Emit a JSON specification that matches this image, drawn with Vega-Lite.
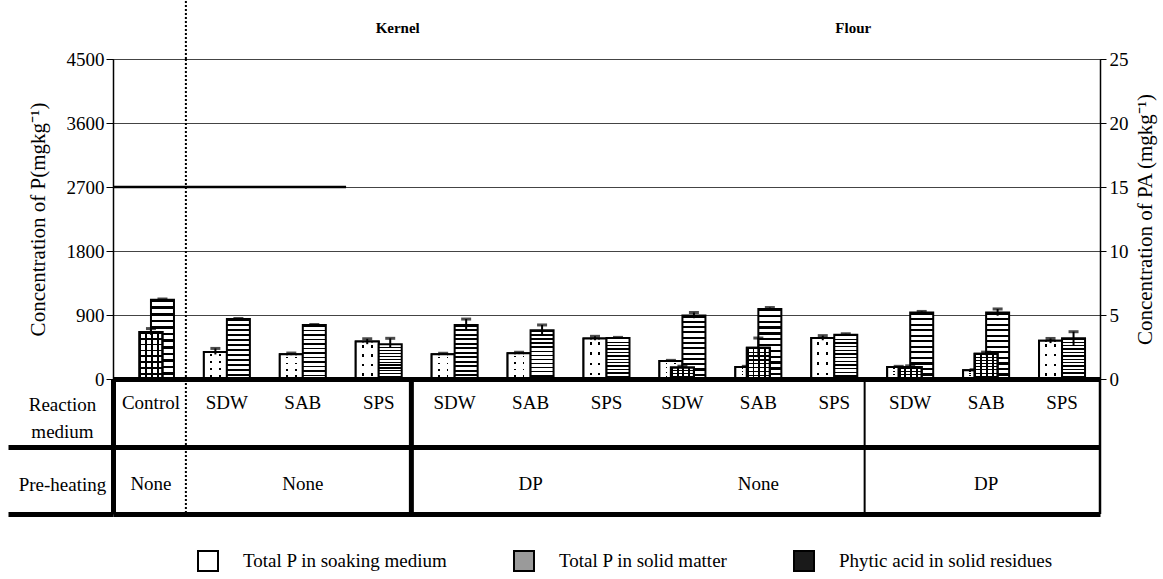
{
"$schema": "https://vega.github.io/schema/vega-lite/v6.json",
"background": "white",
"padding": {"left": 5, "top": 0, "right": 4, "bottom": 5},
"datasets": {
 "bars": [
  {"cat":"K1-SDW","series":"soaking","value":381,"lo":345,"hi":430},
  {"cat":"K1-SAB","series":"soaking","value":349,"lo":335,"hi":365},
  {"cat":"K1-SPS","series":"soaking","value":527,"lo":490,"hi":565},
  {"cat":"K2-SDW","series":"soaking","value":349,"lo":338,"hi":362},
  {"cat":"K2-SAB","series":"soaking","value":363,"lo":350,"hi":376},
  {"cat":"K2-SPS","series":"soaking","value":569,"lo":545,"hi":600},
  {"cat":"F1-SDW","series":"soaking","value":254,"lo":246,"hi":262},
  {"cat":"F1-SAB","series":"soaking","value":169,"lo":160,"hi":178},
  {"cat":"F1-SPS","series":"soaking","value":575,"lo":545,"hi":610},
  {"cat":"F2-SDW","series":"soaking","value":169,"lo":160,"hi":178},
  {"cat":"F2-SAB","series":"soaking","value":123,"lo":115,"hi":131},
  {"cat":"F2-SPS","series":"soaking","value":537,"lo":505,"hi":570},
  {"cat":"C","series":"solid","value":1115,"lo":1105,"hi":1125},
  {"cat":"K1-SDW","series":"solid","value":843,"lo":835,"hi":851},
  {"cat":"K1-SAB","series":"solid","value":758,"lo":750,"hi":766},
  {"cat":"K1-SPS","series":"solid","value":490,"lo":440,"hi":572},
  {"cat":"K2-SDW","series":"solid","value":760,"lo":690,"hi":843},
  {"cat":"K2-SAB","series":"solid","value":686,"lo":610,"hi":760},
  {"cat":"K2-SPS","series":"solid","value":575,"lo":565,"hi":585},
  {"cat":"F1-SDW","series":"solid","value":894,"lo":855,"hi":935},
  {"cat":"F1-SAB","series":"solid","value":985,"lo":965,"hi":1005},
  {"cat":"F1-SPS","series":"solid","value":621,"lo":606,"hi":636},
  {"cat":"F2-SDW","series":"solid","value":936,"lo":922,"hi":950},
  {"cat":"F2-SAB","series":"solid","value":936,"lo":890,"hi":985},
  {"cat":"F2-SPS","series":"solid","value":572,"lo":478,"hi":665},
  {"cat":"C","series":"pa","value":3.68,"lo":3.45,"hi":3.94},
  {"cat":"F1-SDW","series":"pa","value":0.9,"lo":0.8,"hi":1.0},
  {"cat":"F1-SAB","series":"pa","value":2.45,"lo":1.7,"hi":3.2},
  {"cat":"F2-SDW","series":"pa","value":0.94,"lo":0.85,"hi":1.03},
  {"cat":"F2-SAB","series":"pa","value":1.98,"lo":1.85,"hi":2.1}
 ],
 "medium": [
  {"cat":"C","label":"Control"},{"cat":"K1-SDW","label":"SDW"},{"cat":"K1-SAB","label":"SAB"},{"cat":"K1-SPS","label":"SPS"},
  {"cat":"K2-SDW","label":"SDW"},{"cat":"K2-SAB","label":"SAB"},{"cat":"K2-SPS","label":"SPS"},
  {"cat":"F1-SDW","label":"SDW"},{"cat":"F1-SAB","label":"SAB"},{"cat":"F1-SPS","label":"SPS"},
  {"cat":"F2-SDW","label":"SDW"},{"cat":"F2-SAB","label":"SAB"},{"cat":"F2-SPS","label":"SPS"}
 ],
 "pre": [
  {"cat":"C","label":"None"},{"cat":"K1-SAB","label":"None"},{"cat":"K2-SAB","label":"DP"},{"cat":"F1-SAB","label":"None"},{"cat":"F2-SAB","label":"DP"}
 ],
 "groups": [{"cat":"K1-SPS","label":"Kernel"},{"cat":"F1-SPS","label":"Flour"}],
 "legend": [{"name":"Total P in soaking medium"},{"name":"Total P in solid matter"},{"name":"Phytic acid in solid residues"}]
},
"vconcat": [
 {
  "width": 987, "height": 58,
  "layer": [
   {"data": {"values": [{"cat": "C"}]},
    "mark": {"type": "rule", "strokeDash": [2, 2], "strokeWidth": 2, "color": "black"},
    "encoding": {"x": {"field": "cat", "type": "nominal", "bandPosition": 0.96, "scale": {"domain": ["C","K1-SDW","K1-SAB","K1-SPS","K2-SDW","K2-SAB","K2-SPS","F1-SDW","F1-SAB","F1-SPS","F2-SDW","F2-SAB","F2-SPS"], "paddingInner": 0, "paddingOuter": 0}, "axis": null}}},
   {"data": {"name": "groups"},
    "mark": {"type": "text", "font": "Liberation Serif", "fontSize": 15, "fontWeight": "bold", "color": "black", "baseline": "middle"},
    "encoding": {
     "x": {"field": "cat", "type": "nominal", "bandPosition": 0.75, "scale": {"domain": ["C","K1-SDW","K1-SAB","K1-SPS","K2-SDW","K2-SAB","K2-SPS","F1-SDW","F1-SAB","F1-SPS","F2-SDW","F2-SAB","F2-SPS"], "paddingInner": 0, "paddingOuter": 0}, "axis": null},
     "y": {"datum": 1.07, "type": "quantitative", "scale": {"domain": [0, 2]}, "axis": null},
     "text": {"field": "label"}}}
  ]
 },
 {
  "width": 987, "height": 320,
  "view": {"stroke": "black", "strokeWidth": 1},
  "layer": [
   {"layer": [
    {"data": {"name": "bars"}, "transform": [{"filter": "datum.series == 'soaking'"}],
     "mark": {"type": "bar", "stroke": "black", "strokeWidth": 2,
      "fill": {"gradient": "linear", "x1": 0, "y1": 0, "x2": 0, "y2": 1, "stops": [
       {"offset": 0, "color": "white"}, {"offset": 0.095, "color": "white"}, {"offset": 0.095, "color": "black"}, {"offset": 0.16, "color": "black"}, {"offset": 0.16, "color": "white"},
       {"offset": 0.345, "color": "white"}, {"offset": 0.345, "color": "black"}, {"offset": 0.41, "color": "black"}, {"offset": 0.41, "color": "white"},
       {"offset": 0.595, "color": "white"}, {"offset": 0.595, "color": "black"}, {"offset": 0.66, "color": "black"}, {"offset": 0.66, "color": "white"},
       {"offset": 0.845, "color": "white"}, {"offset": 0.845, "color": "black"}, {"offset": 0.91, "color": "black"}, {"offset": 0.91, "color": "white"}, {"offset": 1, "color": "white"}
      ]}},
     "encoding": {
      "x": {"field": "cat", "type": "nominal", "scale": {"domain": ["C","K1-SDW","K1-SAB","K1-SPS","K2-SDW","K2-SAB","K2-SPS","F1-SDW","F1-SAB","F1-SPS","F2-SDW","F2-SAB","F2-SPS"], "paddingInner": 0, "paddingOuter": 0},
            "axis": {"orient": "bottom", "labels": false, "ticks": false, "title": null, "grid": false, "domain": true, "domainColor": "black", "domainWidth": 5}},
      "xOffset": {"field": "series", "type": "nominal", "scale": {"domain": ["soaking", "solid"], "paddingInner": 0, "paddingOuter": 0.65}},
      "y": {"field": "value", "type": "quantitative", "scale": {"domain": [0, 4500], "nice": false},
            "axis": {"orient": "left", "values": [0, 900, 1800, 2700, 3600, 4500], "format": "d", "grid": true, "gridColor": "#444", "gridWidth": 1, "domainColor": "black", "domainWidth": 1.5, "tickSize": 7, "tickColor": "black", "labelPadding": 2,
                     "labelFont": "Liberation Serif", "labelFontSize": 19, "labelColor": "black",
                     "title": "Concentration of  P(mgkg⁻¹)", "titleFont": "Liberation Serif", "titleFontSize": 21, "titleFontWeight": "normal", "titleColor": "black", "titlePadding": 18}}
     }},
    {"data": {"name": "bars"}, "transform": [{"filter": "datum.series == 'soaking'"}],
     "mark": {"type": "bar", "stroke": "black", "strokeWidth": 2,
      "fill": {"gradient": "linear", "x1": 0, "y1": 0, "x2": 1, "y2": 0, "stops": [
       {"offset": 0, "color": "white"}, {"offset": 0.27, "color": "white"}, {"offset": 0.27, "color": "rgba(255,255,255,0)"}, {"offset": 0.35, "color": "rgba(255,255,255,0)"}, {"offset": 0.35, "color": "white"},
       {"offset": 0.65, "color": "white"}, {"offset": 0.65, "color": "rgba(255,255,255,0)"}, {"offset": 0.73, "color": "rgba(255,255,255,0)"}, {"offset": 0.73, "color": "white"}, {"offset": 1, "color": "white"}
      ]}},
     "encoding": {
      "x": {"field": "cat", "type": "nominal", "scale": {"domain": ["C","K1-SDW","K1-SAB","K1-SPS","K2-SDW","K2-SAB","K2-SPS","F1-SDW","F1-SAB","F1-SPS","F2-SDW","F2-SAB","F2-SPS"], "paddingInner": 0, "paddingOuter": 0}},
      "xOffset": {"field": "series", "type": "nominal", "scale": {"domain": ["soaking", "solid"], "paddingInner": 0, "paddingOuter": 0.65}},
      "y": {"field": "value", "type": "quantitative", "scale": {"domain": [0, 4500], "nice": false}}
     }},
    {"data": {"name": "bars"}, "transform": [{"filter": "datum.series == 'solid'"}],
     "mark": {"type": "bar", "stroke": "black", "strokeWidth": 2,
      "fill": {"gradient": "linear", "x1": 0, "y1": 0, "x2": 0, "y2": 1, "stops": [
       {"offset": 0, "color": "black"}, {"offset": 0.0333, "color": "black"}, {"offset": 0.0333, "color": "white"}, {"offset": 0.0833, "color": "white"},
       {"offset": 0.0833, "color": "black"}, {"offset": 0.1167, "color": "black"}, {"offset": 0.1167, "color": "white"}, {"offset": 0.1667, "color": "white"},
       {"offset": 0.1667, "color": "black"}, {"offset": 0.2, "color": "black"}, {"offset": 0.2, "color": "white"}, {"offset": 0.25, "color": "white"},
       {"offset": 0.25, "color": "black"}, {"offset": 0.2833, "color": "black"}, {"offset": 0.2833, "color": "white"}, {"offset": 0.3333, "color": "white"},
       {"offset": 0.3333, "color": "black"}, {"offset": 0.3667, "color": "black"}, {"offset": 0.3667, "color": "white"}, {"offset": 0.4167, "color": "white"},
       {"offset": 0.4167, "color": "black"}, {"offset": 0.45, "color": "black"}, {"offset": 0.45, "color": "white"}, {"offset": 0.5, "color": "white"},
       {"offset": 0.5, "color": "black"}, {"offset": 0.5333, "color": "black"}, {"offset": 0.5333, "color": "white"}, {"offset": 0.5833, "color": "white"},
       {"offset": 0.5833, "color": "black"}, {"offset": 0.6167, "color": "black"}, {"offset": 0.6167, "color": "white"}, {"offset": 0.6667, "color": "white"},
       {"offset": 0.6667, "color": "black"}, {"offset": 0.7, "color": "black"}, {"offset": 0.7, "color": "white"}, {"offset": 0.75, "color": "white"},
       {"offset": 0.75, "color": "black"}, {"offset": 0.7833, "color": "black"}, {"offset": 0.7833, "color": "white"}, {"offset": 0.8333, "color": "white"},
       {"offset": 0.8333, "color": "black"}, {"offset": 0.8667, "color": "black"}, {"offset": 0.8667, "color": "white"}, {"offset": 0.9167, "color": "white"},
       {"offset": 0.9167, "color": "black"}, {"offset": 0.95, "color": "black"}, {"offset": 0.95, "color": "white"}, {"offset": 1, "color": "white"}
      ]}},
     "encoding": {
      "x": {"field": "cat", "type": "nominal", "scale": {"domain": ["C","K1-SDW","K1-SAB","K1-SPS","K2-SDW","K2-SAB","K2-SPS","F1-SDW","F1-SAB","F1-SPS","F2-SDW","F2-SAB","F2-SPS"], "paddingInner": 0, "paddingOuter": 0}},
      "xOffset": {"field": "series", "type": "nominal", "scale": {"domain": ["soaking", "solid"], "paddingInner": 0, "paddingOuter": 0.65}},
      "y": {"field": "value", "type": "quantitative", "scale": {"domain": [0, 4500], "nice": false}}
     }},
    {"data": {"name": "bars"}, "transform": [{"filter": "datum.series != 'pa'"}],
     "mark": {"type": "rule", "color": "black", "strokeWidth": 2},
     "encoding": {
      "x": {"field": "cat", "type": "nominal", "scale": {"domain": ["C","K1-SDW","K1-SAB","K1-SPS","K2-SDW","K2-SAB","K2-SPS","F1-SDW","F1-SAB","F1-SPS","F2-SDW","F2-SAB","F2-SPS"], "paddingInner": 0, "paddingOuter": 0}},
      "xOffset": {"field": "series", "type": "nominal", "scale": {"domain": ["soaking", "solid"], "paddingInner": 0, "paddingOuter": 0.65}},
      "y": {"field": "lo", "type": "quantitative", "scale": {"domain": [0, 4500], "nice": false}},
      "y2": {"field": "hi"}
     }},
    {"data": {"name": "bars"}, "transform": [{"filter": "datum.series != 'pa'"}],
     "mark": {"type": "tick", "color": "black", "thickness": 3, "size": 10, "orient": "horizontal"},
     "encoding": {
      "x": {"field": "cat", "type": "nominal", "scale": {"domain": ["C","K1-SDW","K1-SAB","K1-SPS","K2-SDW","K2-SAB","K2-SPS","F1-SDW","F1-SAB","F1-SPS","F2-SDW","F2-SAB","F2-SPS"], "paddingInner": 0, "paddingOuter": 0}},
      "xOffset": {"field": "series", "type": "nominal", "scale": {"domain": ["soaking", "solid"], "paddingInner": 0, "paddingOuter": 0.65}},
      "y": {"field": "hi", "type": "quantitative", "scale": {"domain": [0, 4500], "nice": false}}
     }},
    {"data": {"values": [{"a": "C", "b": "K1-SPS", "v": 2700}]},
     "mark": {"type": "rule", "color": "black", "strokeWidth": 2.5},
     "encoding": {
      "x": {"field": "a", "type": "nominal", "bandPosition": 0, "scale": {"domain": ["C","K1-SDW","K1-SAB","K1-SPS","K2-SDW","K2-SAB","K2-SPS","F1-SDW","F1-SAB","F1-SPS","F2-SDW","F2-SAB","F2-SPS"], "paddingInner": 0, "paddingOuter": 0}},
      "x2": {"field": "b", "bandPosition": 0.07},
      "y": {"field": "v", "type": "quantitative", "scale": {"domain": [0, 4500], "nice": false}}
     }},
    {"data": {"values": [{"cat": "C"}]},
     "mark": {"type": "rule", "strokeDash": [2, 2], "strokeWidth": 2, "color": "black"},
     "encoding": {"x": {"field": "cat", "type": "nominal", "bandPosition": 0.96, "scale": {"domain": ["C","K1-SDW","K1-SAB","K1-SPS","K2-SDW","K2-SAB","K2-SPS","F1-SDW","F1-SAB","F1-SPS","F2-SDW","F2-SAB","F2-SPS"], "paddingInner": 0, "paddingOuter": 0}}}}
   ]},
   {"layer": [
    {"data": {"name": "bars"}, "transform": [{"filter": "datum.series == 'pa'"}],
     "mark": {"type": "bar", "width": {"band": 0.303}, "stroke": "black", "strokeWidth": 2,
      "fill": {"gradient": "linear", "x1": 0, "y1": 0, "x2": 1, "y2": 0, "stops": [
       {"offset": 0, "color": "black"}, {"offset": 0.08, "color": "black"}, {"offset": 0.08, "color": "white"}, {"offset": 0.25, "color": "white"},
       {"offset": 0.25, "color": "black"}, {"offset": 0.33, "color": "black"}, {"offset": 0.33, "color": "white"}, {"offset": 0.5, "color": "white"},
       {"offset": 0.5, "color": "black"}, {"offset": 0.58, "color": "black"}, {"offset": 0.58, "color": "white"}, {"offset": 0.75, "color": "white"},
       {"offset": 0.75, "color": "black"}, {"offset": 0.83, "color": "black"}, {"offset": 0.83, "color": "white"}, {"offset": 1, "color": "white"}
      ]}},
     "encoding": {
      "x": {"field": "cat", "type": "nominal", "scale": {"domain": ["C","K1-SDW","K1-SAB","K1-SPS","K2-SDW","K2-SAB","K2-SPS","F1-SDW","F1-SAB","F1-SPS","F2-SDW","F2-SAB","F2-SPS"], "paddingInner": 0, "paddingOuter": 0}},
      "y": {"field": "value", "type": "quantitative", "scale": {"domain": [0, 25], "nice": false},
            "axis": {"orient": "right", "values": [0, 5, 10, 15, 20, 25], "format": "d", "grid": false, "domainColor": "black", "domainWidth": 1.5, "tickSize": 6, "tickColor": "black", "labelPadding": 3,
                     "labelFont": "Liberation Serif", "labelFontSize": 19, "labelColor": "black",
                     "title": "Concentration of PA (mgkg⁻¹)", "titleFont": "Liberation Serif", "titleFontSize": 21, "titleFontWeight": "normal", "titleColor": "black", "titleAngle": 270, "titleBaseline": "top", "titlePadding": 6}}
     }},
    {"data": {"name": "bars"}, "transform": [{"filter": "datum.series == 'pa'"}],
     "mark": {"type": "bar", "width": {"band": 0.303}, "stroke": "black", "strokeWidth": 2,
      "fill": {"gradient": "linear", "x1": 0, "y1": 0, "x2": 0, "y2": 1, "stops": [
       {"offset": 0, "color": "black"}, {"offset": 0.0375, "color": "black"}, {"offset": 0.0375, "color": "rgba(255,255,255,0)"}, {"offset": 0.125, "color": "rgba(255,255,255,0)"},
       {"offset": 0.125, "color": "black"}, {"offset": 0.1625, "color": "black"}, {"offset": 0.1625, "color": "rgba(255,255,255,0)"}, {"offset": 0.25, "color": "rgba(255,255,255,0)"},
       {"offset": 0.25, "color": "black"}, {"offset": 0.2875, "color": "black"}, {"offset": 0.2875, "color": "rgba(255,255,255,0)"}, {"offset": 0.375, "color": "rgba(255,255,255,0)"},
       {"offset": 0.375, "color": "black"}, {"offset": 0.4125, "color": "black"}, {"offset": 0.4125, "color": "rgba(255,255,255,0)"}, {"offset": 0.5, "color": "rgba(255,255,255,0)"},
       {"offset": 0.5, "color": "black"}, {"offset": 0.5375, "color": "black"}, {"offset": 0.5375, "color": "rgba(255,255,255,0)"}, {"offset": 0.625, "color": "rgba(255,255,255,0)"},
       {"offset": 0.625, "color": "black"}, {"offset": 0.6625, "color": "black"}, {"offset": 0.6625, "color": "rgba(255,255,255,0)"}, {"offset": 0.75, "color": "rgba(255,255,255,0)"},
       {"offset": 0.75, "color": "black"}, {"offset": 0.7875, "color": "black"}, {"offset": 0.7875, "color": "rgba(255,255,255,0)"}, {"offset": 0.875, "color": "rgba(255,255,255,0)"},
       {"offset": 0.875, "color": "black"}, {"offset": 0.9125, "color": "black"}, {"offset": 0.9125, "color": "rgba(255,255,255,0)"}, {"offset": 1, "color": "rgba(255,255,255,0)"}
      ]}},
     "encoding": {
      "x": {"field": "cat", "type": "nominal", "scale": {"domain": ["C","K1-SDW","K1-SAB","K1-SPS","K2-SDW","K2-SAB","K2-SPS","F1-SDW","F1-SAB","F1-SPS","F2-SDW","F2-SAB","F2-SPS"], "paddingInner": 0, "paddingOuter": 0}},
      "y": {"field": "value", "type": "quantitative", "scale": {"domain": [0, 25], "nice": false}}
     }},
    {"data": {"name": "bars"}, "transform": [{"filter": "datum.series == 'pa'"}],
     "mark": {"type": "rule", "color": "black", "strokeWidth": 2},
     "encoding": {
      "x": {"field": "cat", "type": "nominal", "scale": {"domain": ["C","K1-SDW","K1-SAB","K1-SPS","K2-SDW","K2-SAB","K2-SPS","F1-SDW","F1-SAB","F1-SPS","F2-SDW","F2-SAB","F2-SPS"], "paddingInner": 0, "paddingOuter": 0}},
      "y": {"field": "lo", "type": "quantitative", "scale": {"domain": [0, 25], "nice": false}},
      "y2": {"field": "hi"}
     }},
    {"data": {"name": "bars"}, "transform": [{"filter": "datum.series == 'pa'"}],
     "mark": {"type": "tick", "color": "black", "thickness": 3, "size": 10, "orient": "horizontal"},
     "encoding": {
      "x": {"field": "cat", "type": "nominal", "scale": {"domain": ["C","K1-SDW","K1-SAB","K1-SPS","K2-SDW","K2-SAB","K2-SPS","F1-SDW","F1-SAB","F1-SPS","F2-SDW","F2-SAB","F2-SPS"], "paddingInner": 0, "paddingOuter": 0}},
      "y": {"field": "hi", "type": "quantitative", "scale": {"domain": [0, 25], "nice": false}}
     }}
   ]}
  ],
  "resolve": {"scale": {"y": "independent"}}
 },
 {
  "width": 987, "height": 135,
  "layer": [
   {"data": {"name": "medium"},
    "mark": {"type": "text", "font": "Liberation Serif", "fontSize": 19, "color": "black", "baseline": "middle"},
    "encoding": {
     "x": {"field": "cat", "type": "nominal", "scale": {"domain": ["C","K1-SDW","K1-SAB","K1-SPS","K2-SDW","K2-SAB","K2-SPS","F1-SDW","F1-SAB","F1-SPS","F2-SDW","F2-SAB","F2-SPS"], "paddingInner": 0, "paddingOuter": 0}, "axis": null},
     "y": {"datum": 0.356, "type": "quantitative", "scale": {"domain": [0, 2], "reverse": true, "nice": false, "zero": false},
           "axis": {"orient": "left", "values": [0, 1, 2], "grid": true, "gridColor": "black", "gridWidth": 5, "domain": true, "domainColor": "black", "domainWidth": 5,
                    "ticks": true, "tickSize": 105, "tickWidth": 5, "tickColor": {"condition": {"test": "datum.value == 0", "value": "transparent"}, "value": "black"},
                    "labelExpr": "datum.value == 0 ? ['Reaction', 'medium'] : (datum.value == 1 ? 'Pre-heating' : '')",
                    "labelFont": "Liberation Serif", "labelFontSize": 19, "labelColor": "black",
                    "labelAlign": "center", "labelBaseline": "middle",
                    "labelOffset": {"condition": {"test": "datum.value == 0", "value": 25}, "value": 38},
                    "labelPadding": -54, "labelLineHeight": 27, "labelBound": false, "title": null}},
     "text": {"field": "label"}}},
   {"data": {"name": "pre"},
    "mark": {"type": "text", "font": "Liberation Serif", "fontSize": 19, "color": "black", "baseline": "middle"},
    "encoding": {
     "x": {"field": "cat", "type": "nominal", "scale": {"domain": ["C","K1-SDW","K1-SAB","K1-SPS","K2-SDW","K2-SAB","K2-SPS","F1-SDW","F1-SAB","F1-SPS","F2-SDW","F2-SAB","F2-SPS"], "paddingInner": 0, "paddingOuter": 0}, "axis": null},
     "y": {"datum": 1.56, "type": "quantitative"},
     "text": {"field": "label"}}},
   {"data": {"values": [{"cat": "K1-SPS"}]},
    "mark": {"type": "rule", "strokeWidth": 5, "color": "black"},
    "encoding": {"x": {"field": "cat", "type": "nominal", "bandPosition": 0.93, "scale": {"domain": ["C","K1-SDW","K1-SAB","K1-SPS","K2-SDW","K2-SAB","K2-SPS","F1-SDW","F1-SAB","F1-SPS","F2-SDW","F2-SAB","F2-SPS"], "paddingInner": 0, "paddingOuter": 0}, "axis": null}}},
   {"data": {"values": [{"cat": "F1-SPS"}]},
    "mark": {"type": "rule", "strokeWidth": 2, "color": "black"},
    "encoding": {"x": {"field": "cat", "type": "nominal", "bandPosition": 0.9, "scale": {"domain": ["C","K1-SDW","K1-SAB","K1-SPS","K2-SDW","K2-SAB","K2-SPS","F1-SDW","F1-SAB","F1-SPS","F2-SDW","F2-SAB","F2-SPS"], "paddingInner": 0, "paddingOuter": 0}, "axis": null}}},
   {"data": {"values": [{"cat": "F2-SPS"}]},
    "mark": {"type": "rule", "strokeWidth": 2.5, "color": "black"},
    "encoding": {"x": {"field": "cat", "type": "nominal", "bandPosition": 1, "scale": {"domain": ["C","K1-SDW","K1-SAB","K1-SPS","K2-SDW","K2-SAB","K2-SPS","F1-SDW","F1-SAB","F1-SPS","F2-SDW","F2-SAB","F2-SPS"], "paddingInner": 0, "paddingOuter": 0}, "axis": null}}},
   {"data": {"values": [{"cat": "C"}]},
    "mark": {"type": "rule", "strokeDash": [2, 2], "strokeWidth": 2, "color": "black"},
    "encoding": {"x": {"field": "cat", "type": "nominal", "bandPosition": 0.96, "scale": {"domain": ["C","K1-SDW","K1-SAB","K1-SPS","K2-SDW","K2-SAB","K2-SPS","F1-SDW","F1-SAB","F1-SPS","F2-SDW","F2-SAB","F2-SPS"], "paddingInner": 0, "paddingOuter": 0}, "axis": null}}},
   {"data": {"name": "legend"},
    "mark": {"type": "square", "opacity": 0},
    "encoding": {
     "fill": {"field": "name", "type": "nominal",
              "scale": {"domain": ["Total P in soaking medium", "Total P in solid matter", "Phytic acid in solid residues"], "range": ["white", "#9a9a9a", "#1a1a1a"]},
              "legend": {"orient": "none", "legendX": 84, "legendY": 549, "direction": "horizontal", "columns": 3, "columnPadding": 62, "title": null,
                         "symbolType": "square", "symbolSize": 400, "symbolStrokeColor": "black", "symbolStrokeWidth": 2, "symbolOpacity": 1,
                         "labelOffset": 24, "labelFont": "Liberation Serif", "labelFontSize": 19, "labelColor": "black", "labelLimit": 400,
                         "encode": {"symbols": {"update": {"stroke": {"value": "black"}, "strokeWidth": {"value": 2}, "opacity": {"value": 1},
                                                           "fill": [
                                                            {"test": "datum.value === 'Total P in solid matter'", "value": {"gradient": "linear", "x1": 0, "y1": 0, "x2": 0, "y2": 1, "stops": [
                                                              {"offset": 0, "color": "black"}, {"offset": 0.22, "color": "black"}, {"offset": 0.22, "color": "white"}, {"offset": 0.44, "color": "white"},
                                                              {"offset": 0.44, "color": "black"}, {"offset": 0.58, "color": "black"}, {"offset": 0.58, "color": "white"}, {"offset": 1, "color": "white"}]}},
                                                            {"test": "datum.value === 'Phytic acid in solid residues'", "value": "#111"},
                                                            {"value": "white"}
                                                           ]}},
                                    "labels": {"update": {"font": {"value": "Liberation Serif"}, "fontSize": {"value": 19}}}}}}
    }}
  ]
 }
],
"spacing": 0,
"bounds": "flush",
"config": {
 "view": {"stroke": null},
 "font": "Liberation Serif",
 "axis": {"labelFont": "Liberation Serif", "titleFont": "Liberation Serif", "labelColor": "black", "titleColor": "black", "labelFontSize": 19, "titleFontSize": 19, "titleFontWeight": "normal", "domainColor": "black", "tickColor": "black", "labelFlush": false, "labelOverlap": false},
 "legend": {"labelFont": "Liberation Serif"},
 "text": {"font": "Liberation Serif"}
}
}
